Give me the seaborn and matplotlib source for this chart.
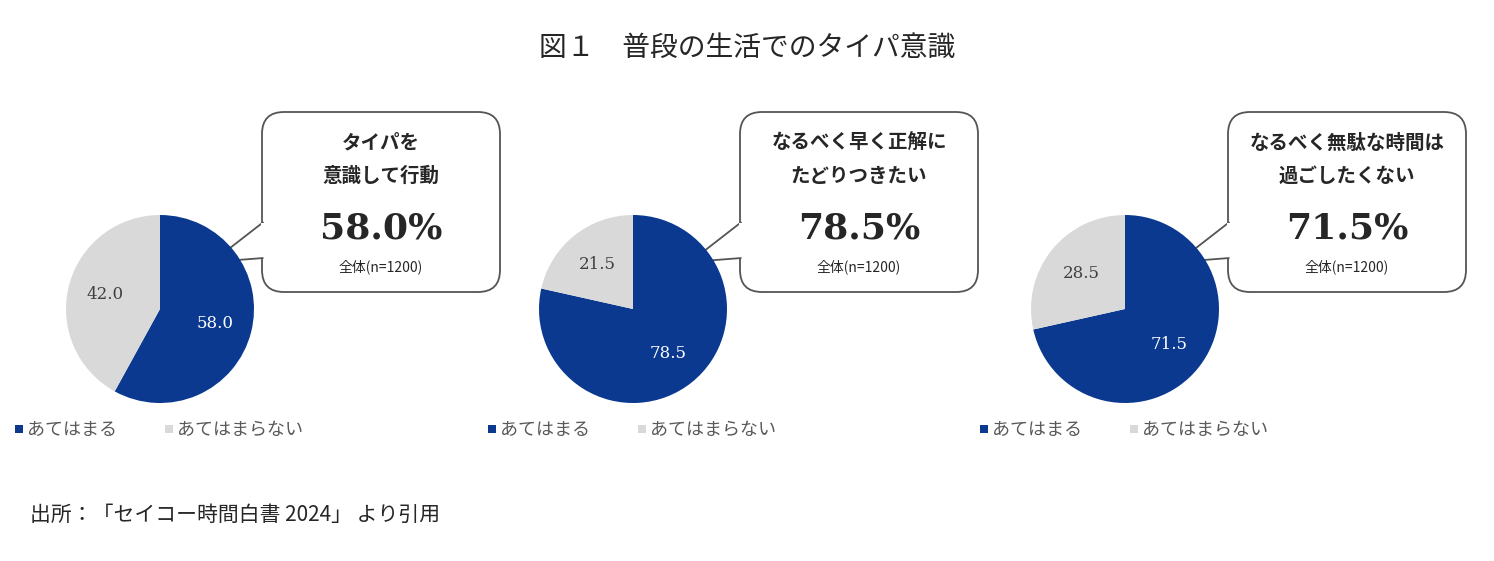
import matplotlib.pyplot as plt
import matplotlib.patches as mpatches
import seaborn as sns

sns.set_theme(style="white", font="Noto Sans CJK JP")

labels = ["あてはまる", "あてはまらない"]
yes_vals = [58.0, 78.5, 71.5]
no_vals = [42.0, 21.5, 28.5]
bubble_texts = ["タイパを\n意識して行動", "なるべく早く正解に\nたどりつきたい", "なるべく無駄な時間は\n過ごしたくない"]
colors = ["#0b3990", "#d9d9d9"]

W, H = 1494, 561
fig = plt.figure(figsize=(W / 100, H / 100), dpi=100)
bg = fig.add_axes([0, 0, 1, 1])
bg.set_xlim(0, W)
bg.set_ylim(H, 0)
bg.axis("off")

bg.text(W / 2, 48, "図１　普段の生活でのタイパ意識", ha="center", va="center", fontsize=20)
bg.text(30, 515, "出所：「セイコー時間白書 2024」 より引用", ha="left", va="center", fontsize=15)

centers = [160, 633, 1125]
boxes = [262, 740, 1228]
r = 94
for i in range(3):
    cx, cy = centers[i], 309
    ax = fig.add_axes([(cx - r) / W, 1 - (cy + r) / H, 2 * r / W, 2 * r / H])
    wedges, texts = ax.pie([yes_vals[i], no_vals[i]], colors=colors, startangle=90, counterclock=False,
                           labels=[f"{yes_vals[i]:.1f}", f"{no_vals[i]:.1f}"], labeldistance=0.6,
                           wedgeprops=dict(linewidth=0),
                           textprops=dict(fontsize=12, family="DejaVu Serif", ha="center"))
    texts[0].set_color("white")
    texts[1].set_color("#404040")
    ax.set_xlim(-1, 1)
    ax.set_ylim(-1, 1)
    ax.set_aspect("equal")

    # speech bubble
    bx = boxes[i]
    box = mpatches.FancyBboxPatch((bx, 112), 238, 180, boxstyle="round,pad=0,rounding_size=22",
                                  fc="white", ec="#555555", lw=1.3, zorder=2)
    bg.add_patch(box)
    tail = [(bx + 1.5, 222), (bx - 50, 262), (bx + 1.5, 258)]
    bg.add_patch(mpatches.Polygon(tail, closed=False, fc="white", ec="#555555", lw=1.3, zorder=3))
    bg.add_patch(mpatches.Rectangle((bx - 1, 223), 4, 34, fc="white", ec="none", zorder=4))
    tx = bx + 119
    bg.text(tx, 160, bubble_texts[i], ha="center", va="center", fontsize=14, fontweight="bold",
            linespacing=1.9, zorder=5)
    bg.text(tx, 228, f"{yes_vals[i]:.1f}%", ha="center", va="center", fontsize=26, fontweight="bold",
            family="DejaVu Serif", zorder=5)
    bg.text(tx, 267, "全体(n=1200)", ha="center", va="center", fontsize=10, zorder=5)

    # legend
    lx = cx - 145
    for j, lab in enumerate(labels):
        x0 = lx + j * 150
        bg.add_patch(mpatches.Rectangle((x0, 425), 8, 8, fc=colors[j], ec="none"))
        bg.text(x0 + 12, 430, lab, ha="left", va="center", fontsize=13, color="#595959")

fig.savefig("out.png", dpi=100)
